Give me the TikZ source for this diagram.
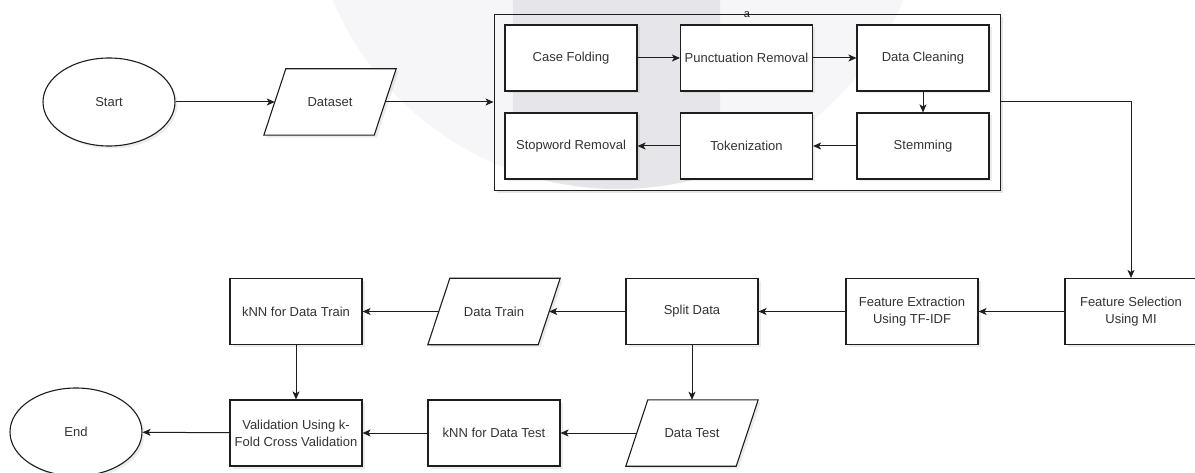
\documentclass[tikz,border=0pt]{standalone}
\usepackage{fontspec}
\setmainfont{Liberation Sans}
\usetikzlibrary{shapes.geometric,arrows.meta,shadows}

\definecolor{inkline}{HTML}{1E1E1E}
\definecolor{inktext}{HTML}{333333}
\definecolor{markpale}{HTML}{F6F6F8}
\definecolor{markband}{HTML}{E6E6EA}

\pgfdeclarelayer{mark}
\pgfdeclarelayer{frames}
\pgfsetlayers{mark,frames,main}

\tikzset{
  textstyle/.style={text=inktext, font=\fontsize{13}{17}\selectfont, align=center, inner sep=0pt},
  base/.style={textstyle, draw=inkline, line width=1.1pt, fill=white,
    drop shadow={shadow xshift=2.5pt, shadow yshift=-2.5pt, opacity=0.12, fill=black!60}},
  procbox/.style={base, rectangle, minimum width=132pt, minimum height=66pt},
  % data nodes: the node itself is the mid-width box, the slanted frame is drawn by \paraframe
  iobox/.style={textstyle, rectangle, minimum width=110pt, minimum height=66pt},
  paraline/.style={draw=inkline, line width=1.1pt, fill=white},
  parashadow/.style={fill=black!60, opacity=0.12, transform canvas={shift={(2.5pt,-2.5pt)}}},
  terminal/.style={base, ellipse, minimum width=132pt, minimum height=88pt},
  groupbox/.style={draw=inkline, line width=0.9pt, rectangle, inner sep=0pt,
    minimum width=506pt, minimum height=176pt},
  flow/.style={draw=inkline, line width=1pt, -{Stealth[length=8pt,width=7pt,inset=2pt]}},
}

% slanted frame around a data node (skew 22pt over its 66pt height)
\newcommand{\paraframe}[1]{%
  \begin{pgfonlayer}{frames}
    \path[parashadow] ([xshift=-11pt]#1.south west) -- ([xshift=11pt]#1.north west)
      -- ([xshift=11pt]#1.north east) -- ([xshift=-11pt]#1.south east) -- cycle;
    \path[paraline] ([xshift=-11pt]#1.south west) -- ([xshift=11pt]#1.north west)
      -- ([xshift=11pt]#1.north east) -- ([xshift=-11pt]#1.south east) -- cycle;
  \end{pgfonlayer}}

\begin{document}
\begin{tikzpicture}[x=1pt,y=-1pt]
  \path[use as bounding box, clip] (0,0) rectangle (1195,473);

  % pale background mark
  \begin{pgfonlayer}{mark}
    \fill[markpale] (618,-121) circle (310pt);
    \begin{scope}
      \clip (513,0) rectangle (720,240);
      \fill[markband] (618,-121) circle (310pt);
    \end{scope}
  \end{pgfonlayer}

  % start and input
  \node[terminal] (start) at (109,102) {Start};
  \node[iobox] (dataset) at (330,102) {Dataset};
  \paraframe{dataset}

  % preprocessing group
  \draw[black!10, line width=1.5pt] (1002,17) -- (1002,192) -- (497,192);
  \node[groupbox] (grp) at (747,102) {};
  \node[font=\fontsize{11}{11}\selectfont, text=inkline, inner sep=0pt] (grplabel) at (747,15) {a};

  \node[procbox] (cf)   at (571,58)    {Case Folding};
  \node[procbox] (pr)   at (746.5,58)  {Punctuation Removal};
  \node[procbox] (dc)   at (923,58)    {Data Cleaning};
  \node[procbox] (sw)   at (571,146)   {Stopword Removal};
  \node[procbox] (tok)  at (746.5,146) {Tokenization};
  \node[procbox] (stem) at (923,146)   {Stemming};

  % features and split
  \node[procbox] (fs)    at (1131,311.5) {Feature Selection\\Using MI};
  \node[procbox] (fe)    at (912,311.5)  {Feature Extraction\\Using TF-IDF};
  \node[procbox] (split) at (692,311.5)  {Split Data};
  \node[iobox]   (dtrain) at (494,311.5) {Data Train};
  \paraframe{dtrain}
  \node[procbox] (knntrain) at (296,311.5) {kNN for Data Train};

  \node[iobox]   (dtest)   at (692,433) {Data Test};
  \paraframe{dtest}
  \node[procbox] (knntest) at (494,433) {kNN for Data Test};
  \node[procbox] (valid)   at (296,433) {Validation Using k-\\Fold Cross Validation};
  \node[terminal] (end)    at (76,432)  {End};

  % connectors
  \draw[flow] (start) -- (dataset);
  \draw[flow] (dataset) -- (grp.west);
  \draw[flow] (cf) -- (pr);
  \draw[flow] (pr) -- (dc);
  \draw[flow] (dc) -- (stem);
  \draw[flow] (stem) -- (tok);
  \draw[flow] (tok) -- (sw);
  \draw[flow] (grp.east) -| (fs.north);
  \draw[flow] (fs) -- (fe);
  \draw[flow] (fe) -- (split);
  \draw[flow] (split) -- (dtrain);
  \draw[flow] (dtrain) -- (knntrain);
  \draw[flow] (knntrain) -- (valid);
  \draw[flow] (split) -- (dtest);
  \draw[flow] (dtest) -- (knntest);
  \draw[flow] (knntest) -- (valid);
  \draw[flow] (valid) -- (end);
\end{tikzpicture}
\end{document}
